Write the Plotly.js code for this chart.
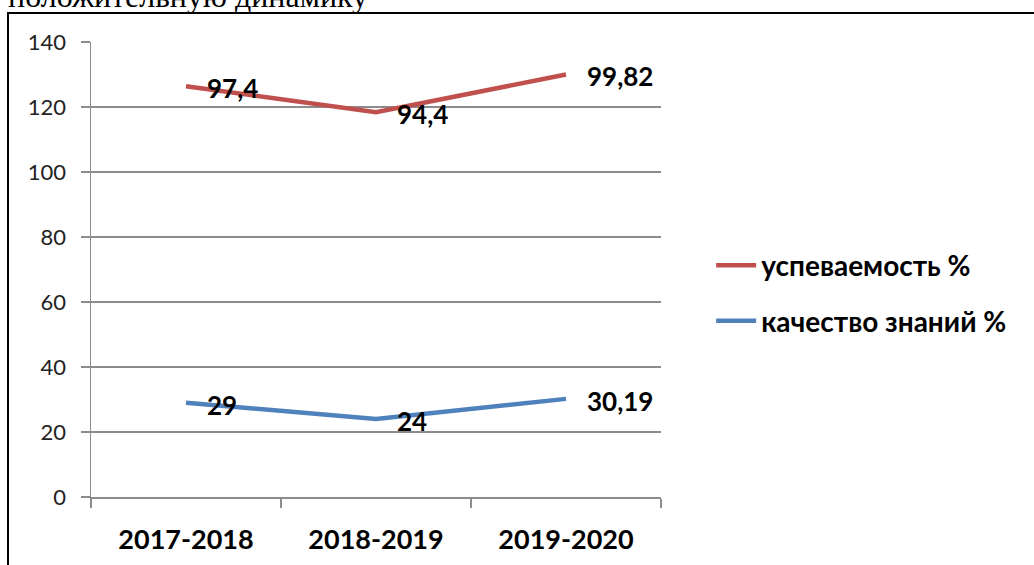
<!DOCTYPE html>
<html>
<head>
<meta charset="utf-8">
<script src="https://cdn.plot.ly/plotly-3.0.1.min.js"></script>
<style>
  html, body { margin: 0; padding: 0; background: #fff; overflow: hidden; }
  #wrap { position: relative; width: 1034px; height: 565px; }
  #caption { position: absolute; left: 8px; top: -20px; font-family: "Liberation Serif", "Times New Roman", serif; font-size: 32px; line-height: 32px; color: #000; white-space: nowrap; }
  #frame { position: absolute; left: 7px; top: 12px; width: 1040px; height: 570px; border: 2px solid #000; box-sizing: border-box; }
  #chart { position: absolute; left: 0; top: 0; width: 1034px; height: 565px; }
</style>
</head>
<body>
<div id="wrap">
  <div id="caption">положительную динамику</div>
  <div id="frame"></div>
  <div id="chart"></div>
</div>
<script>
const categories = ["2017-2018", "2018-2019", "2019-2020"];
const uspevaemost = [97.4, 94.4, 99.82];
const kachestvo = [29, 24, 30.19];
const uspevaemostLabels = ["97,4", "94,4", "99,82"];
const kachestvoLabels = ["29", "24", "30,19"];
const seriesNames = ["успеваемость %", "качество знаний %"];
const yTicks = [0, 20, 40, 60, 80, 100, 120, 140];

// Stacked line chart: the first series is drawn on top of the second.
const stackedTop = uspevaemost.map((v, i) => v + kachestvo[i]);

const RED = "#C0504D", BLUE = "#4F81BD", GRID = "#8C8C8C";
const FONT = "Lato, Carlito, Calibri, 'Liberation Sans', sans-serif";

const traces = [
  { x: categories, y: stackedTop, name: seriesNames[0], type: "scatter", mode: "lines",
    line: { color: RED, width: 4.5 }, legendgroup: "a", hoverinfo: "skip" },
  { x: categories, y: kachestvo, name: seriesNames[1], type: "scatter", mode: "lines",
    line: { color: BLUE, width: 4.5 }, legendgroup: "b", hoverinfo: "skip" }
];

const labelFont = { family: FONT, size: 26, color: "#000", weight: "bold" };
const annotations = [];
categories.forEach((c, i) => {
  annotations.push({ x: c, y: stackedTop[i], xref: "x", yref: "y", text: uspevaemostLabels[i],
    showarrow: false, xanchor: "left", yanchor: "middle", xshift: 19, yshift: -2, font: labelFont });
  annotations.push({ x: c, y: kachestvo[i], xref: "x", yref: "y", text: kachestvoLabels[i],
    showarrow: false, xanchor: "left", yanchor: "middle", xshift: 19, yshift: -2, font: labelFont });
});

const layout = {
  width: 1034, height: 565,
  margin: { l: 91, r: 373, t: 42, b: 68, pad: 0 },
  paper_bgcolor: "rgba(0,0,0,0)", plot_bgcolor: "rgba(0,0,0,0)",
  showlegend: true,
  legend: { x: 1.088, y: 0.448, xanchor: "left", yanchor: "middle", tracegroupgap: 16,
    font: { family: FONT, size: 28, color: "#000", weight: "bold" }, itemwidth: 40,
    bgcolor: "rgba(0,0,0,0)" },
  xaxis: { type: "category", range: [-0.5, 2.5], showgrid: false, zeroline: false,
    showline: true, linecolor: GRID, linewidth: 1.5, ticks: "outside", tickson: "boundaries",
    ticklen: 9, tickwidth: 1.5, tickcolor: GRID, ticklabelstandoff: 18,
    tickfont: { family: FONT, size: 27, color: "#000", weight: "bold" }, fixedrange: true },
  yaxis: { range: [0, 140], tickvals: yTicks, ticktext: yTicks.map(String), showgrid: true,
    gridcolor: GRID, gridwidth: 1.5, zeroline: false, showline: true, linecolor: GRID,
    linewidth: 1.5, ticks: "outside", ticklen: 9, tickwidth: 1.5, tickcolor: GRID,
    ticklabelstandoff: 10, tickfont: { family: FONT, size: 22, color: "#222" }, fixedrange: true },
  annotations: annotations
};

Plotly.newPlot("chart", traces, layout, { displayModeBar: false, staticPlot: true });
</script>
</body>
</html>
